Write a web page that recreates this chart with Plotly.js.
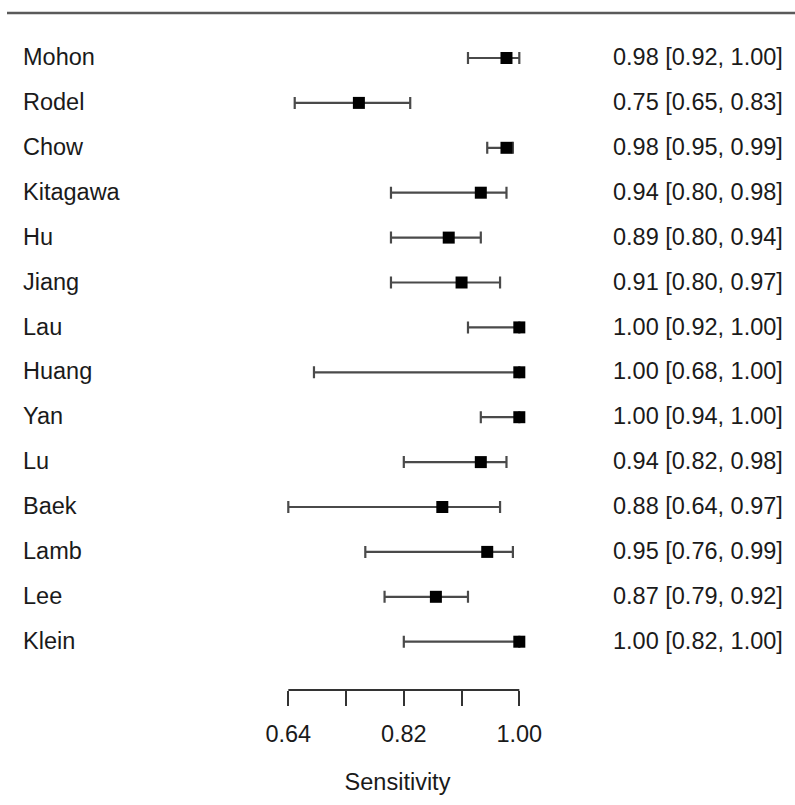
<!DOCTYPE html>
<html>
<head>
<meta charset="utf-8">
<script src="https://cdn.plot.ly/plotly-3.0.1.min.js"></script>
<style>html,body{margin:0;padding:0;background:#fff;}#chart{width:795px;height:805px;}</style>
</head>
<body>
<div id="chart"></div>
<script>
const studies = ["Mohon","Rodel","Chow","Kitagawa","Hu","Jiang","Lau","Huang","Yan","Lu","Baek","Lamb","Lee","Klein"];
const estimate = [0.98,0.75,0.98,0.94,0.89,0.91,1.00,1.00,1.00,0.94,0.88,0.95,0.87,1.00];
const lower    = [0.92,0.65,0.95,0.80,0.80,0.80,0.92,0.68,0.94,0.82,0.64,0.76,0.79,0.82];
const upper    = [1.00,0.83,0.99,0.98,0.94,0.97,1.00,1.00,1.00,0.98,0.97,0.99,0.92,1.00];
const tickVals = [0.64,0.73,0.82,0.91,1.00];
const tickText = ["0.64","","0.82","","1.00"];
const xLabel = "Sensitivity";

const rows = studies.map((_, i) => i);
const FONT = "Liberation Sans, Arial, sans-serif";
const TXT = "#1a1a1a";
const FS = 23.5;

const trace = {
  type: "scatter", mode: "markers",
  x: estimate, y: rows,
  marker: {symbol: "square", size: 12, color: "#000", line: {width: 0}},
  error_x: {
    type: "data", symmetric: false,
    array: upper.map((u, i) => u - estimate[i]),
    arrayminus: lower.map((l, i) => estimate[i] - l),
    color: "#4a4a4a", thickness: 2.2, width: 6
  },
  hoverinfo: "skip", showlegend: false, cliponaxis: false
};

const annotations = [];
studies.forEach((s, i) => {
  annotations.push({xref: "paper", yref: "y", x: 21/795, y: i - 0.02, xanchor: "left", yanchor: "middle",
    text: s, showarrow: false, font: {family: FONT, size: FS, color: TXT}});
  annotations.push({xref: "paper", yref: "y", x: 785/795, y: i - 0.02, xanchor: "right", yanchor: "middle",
    text: estimate[i].toFixed(2) + " [" + lower[i].toFixed(2) + ", " + upper[i].toFixed(2) + "]",
    showarrow: false, font: {family: FONT, size: FS, color: TXT}});
});

const layout = {
  width: 795, height: 805,
  margin: {l: 0, r: 0, t: 0, b: 115, pad: 0},
  paper_bgcolor: "#fff", plot_bgcolor: "#fff",
  xaxis: {
    range: [0.19072, 1.42962], showgrid: false, zeroline: false, showline: false,
    tickmode: "array", tickvals: tickVals, ticktext: tickText,
    ticks: "outside", ticklen: 15, tickwidth: 2, tickcolor: "#333",
    ticklabelstandoff: 8,
    tickfont: {family: FONT, size: FS, color: TXT},
    title: {text: xLabel, font: {family: FONT, size: FS, color: TXT}, standoff: 27},
    fixedrange: true
  },
  yaxis: {
    range: [14.0757, -1.2918], showgrid: false, zeroline: false, showline: false,
    showticklabels: false, ticks: "", fixedrange: true
  },
  shapes: [
    {type: "line", xref: "paper", yref: "y", x0: 7/795, x1: 1, y0: -1, y1: -1,
     line: {color: "#5a5a5a", width: 2.5}},
    {type: "line", xref: "x", yref: "paper", x0: tickVals[0], x1: tickVals[tickVals.length-1], y0: 0, y1: 0,
     line: {color: "#333", width: 2}}
  ],
  annotations: annotations
};

Plotly.newPlot("chart", [trace], layout, {displayModeBar: false, staticPlot: true});
</script>
</body>
</html>
